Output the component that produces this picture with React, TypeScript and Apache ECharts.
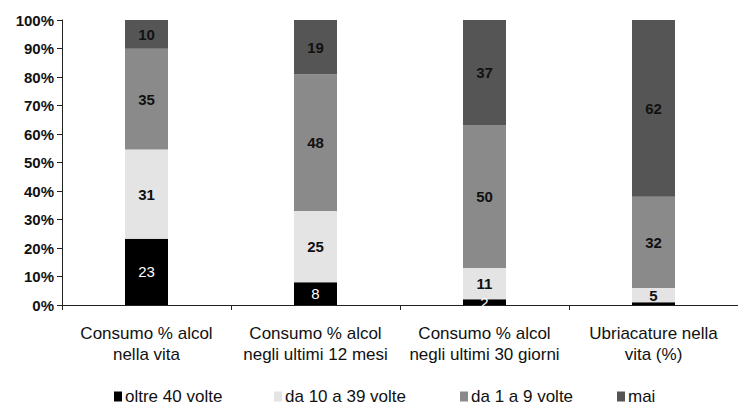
import React, { useEffect, useRef } from "react";
import * as echarts from "echarts";

const categories = [
  "Consumo % alcol\nnella vita",
  "Consumo % alcol\nnegli ultimi 12 mesi",
  "Consumo % alcol\nnegli ultimi 30 giorni",
  "Ubriacature nella\nvita (%)",
];
const seriesNames = ["oltre 40 volte", "da 10 a 39 volte", "da 1 a 9 volte", "mai"];
const oltre40 = [23, 8, 2, 1];
const da10a39 = [31, 25, 11, 5];
const da1a9 = [35, 48, 50, 32];
const mai = [10, 19, 37, 62];
const yTicks = ["0%", "10%", "20%", "30%", "40%", "50%", "60%", "70%", "80%", "90%", "100%"];

const colors = ["#000000", "#e4e4e4", "#8a8a8a", "#555555"];
const labelColors = ["#ffffff", "#111111", "#111111", "#111111"];

export default function App() {
  const ref = useRef<HTMLDivElement>(null);
  useEffect(() => {
    document.body.style.margin = "0";
    const chart = echarts.init(ref.current!, undefined, { renderer: "svg" });
    const raw = [oltre40, da10a39, da1a9, mai];
    const totals = categories.map((_, i) => raw.reduce((s, a) => s + a[i], 0));
    const font = "Liberation Sans, Arial, sans-serif";
    const legendLefts = [114, 274, 460, 617];
    chart.setOption({
      animation: false,
      textStyle: { fontFamily: font },
      grid: { left: 62, top: 20, height: 285, width: 680 },
      legend: seriesNames.map((n, i) => ({
        data: [n],
        left: legendLefts[i],
        top: 388,
        itemWidth: 8,
        itemHeight: 10,
        itemGap: 0,
        padding: 0,
        icon: "rect",
        textStyle: { fontSize: 17, color: "#111", fontFamily: font, padding: [0, 0, 0, -2] },
      })),
      xAxis: {
        type: "category",
        data: categories,
        axisLine: { lineStyle: { color: "#222", width: 1 } },
        axisTick: { show: true, length: 5, lineStyle: { color: "#222" } },
        axisLabel: { interval: 0, fontSize: 17, color: "#111", lineHeight: 21, margin: 18, fontFamily: font },
      },
      yAxis: {
        type: "value",
        min: 0,
        max: 100,
        interval: 10,
        axisLine: { show: true, lineStyle: { color: "#222", width: 1 } },
        axisTick: { show: true, length: 5, lineStyle: { color: "#222" } },
        splitLine: { show: false },
        axisLabel: {
          fontSize: 15,
          fontWeight: "bold",
          color: "#111",
          margin: 8,
          fontFamily: font,
          formatter: (v: number) => yTicks[Math.round(v / 10)],
        },
      },
      series: seriesNames.map((name, si) => ({
        name,
        type: "bar",
        stack: "total",
        barWidth: 43,
        itemStyle: { color: colors[si] },
        label: {
          show: true,
          position: "inside",
          fontSize: 15,
          fontWeight: si === 0 ? "normal" : "bold",
          color: labelColors[si],
          fontFamily: font,
          formatter: (p: any) => {
            const v = raw[si][p.dataIndex];
            return v >= 2 ? String(v) : "";
          },
        },
        data: raw[si].map((v, i) => (v / totals[i]) * 100),
      })),
    });
    return () => chart.dispose();
  }, []);
  return <div ref={ref} style={{ width: 738, height: 407 }} />;
}
